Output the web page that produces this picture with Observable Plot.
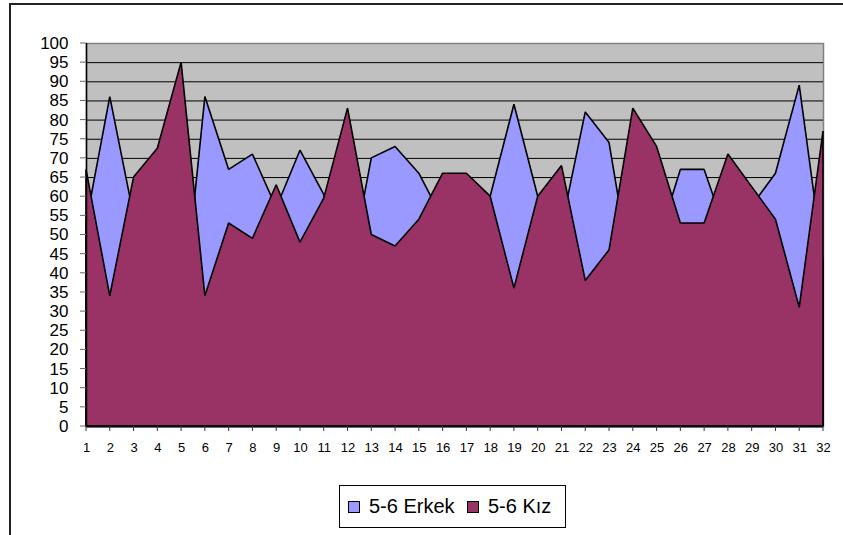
<!DOCTYPE html>
<html>
<head>
<meta charset="utf-8">
<script src="https://cdn.jsdelivr.net/npm/d3@7"></script>
<script src="https://cdn.jsdelivr.net/npm/@observablehq/plot@0.6"></script>
<style>
  html, body { margin: 0; padding: 0; background: #fff; }
  #wrap { position: relative; width: 843px; height: 535px; overflow: hidden; font-family: "Liberation Sans", Arial, sans-serif; }
  #frame { position: absolute; left: 9px; top: 3px; width: 900px; height: 600px; border: 2px solid #222; box-sizing: border-box; }
  #chart { position: absolute; left: 0; top: 0; }
  #legend { position: absolute; left: 339px; top: 485px; width: 227px; height: 43px; border: 1px solid #000; box-sizing: border-box; background: #fff; }
  .sw { position: absolute; width: 10px; height: 10px; border: 1px solid #000; top: 15px; }
  .lt { position: absolute; top: 8px; font-size: 20px; line-height: 24px; color: #000; white-space: nowrap; }
</style>
</head>
<body>
<div id="wrap">
  <div id="frame"></div>
  <div id="chart"></div>
  <div id="legend"></div>
</div>
<script>
const categories = [1,2,3,4,5,6,7,8,9,10,11,12,13,14,15,16,17,18,19,20,21,22,23,24,25,26,27,28,29,30,31,32];
const seriesNames = ["5-6 Erkek", "5-6 Kız"];
const erkek = [53,86,55,47.5,25,86,67,71,57,72,60.5,37,70,73,66,54,54,60,84,60,52,82,74,37,47,67,67,49,57.5,66,89,43];
const kiz   = [67,34,65,72.5,95,34,53,49,63,48,59.5,83,50,47,54,66,66,60,36,60,68,38,46,83,73,53,53,71,62.5,54,31,77];
const yTicks = [0,5,10,15,20,25,30,35,40,45,50,55,60,65,70,75,80,85,90,95,100];
const colors = ["#9999FF", "#993366"];

const data = categories.map((c, i) => ({cat: c, erkek: erkek[i], kiz: kiz[i]}));
const grid = yTicks.filter(v => v > 0 && v < 100);

const chart = Plot.plot({
  width: 843,
  height: 470,
  marginLeft: 86,
  marginRight: 20,
  marginTop: 43,
  marginBottom: 44,
  style: {fontFamily: "'Liberation Sans', Arial, sans-serif", color: "#000", background: "transparent", overflow: "visible"},
  x: {type: "linear", domain: [1, 32], axis: null},
  y: {domain: [0, 100], axis: null},
  marks: [
    Plot.frame({fill: "#C0C0C0", stroke: "#808080", strokeWidth: 1.5}),
    Plot.ruleY(grid, {stroke: "#000", strokeWidth: 1}),
    Plot.areaY(data, {x: "cat", y: "erkek", fill: colors[0], stroke: "#000", strokeWidth: 1.6, strokeLinejoin: "miter"}),
    Plot.areaY(data, {x: "cat", y: "kiz", fill: colors[1], stroke: "#000", strokeWidth: 1.6, strokeLinejoin: "miter"}),
    Plot.ruleY([0], {stroke: "#000", strokeWidth: 2}),
    Plot.ruleX([1], {stroke: "#000", strokeWidth: 1.5}),
    Plot.text(yTicks, {y: d => d, text: d => String(d), frameAnchor: "left", textAnchor: "end", dx: -18, fontSize: 17, fill: "#000"}),
    Plot.text(categories, {x: d => d, text: d => String(d), frameAnchor: "bottom", dy: 25, fontSize: 13, fill: "#000"})
  ]
});
document.getElementById("chart").appendChild(chart);

// short tick marks outside the plot area, positioned with the Plot scales
const xs = chart.scale("x"), ys = chart.scale("y");
const svg = d3.select(chart);
const tg = svg.append("g").attr("aria-label", "tick marks");
tg.selectAll("line.yt").data(yTicks).join("line").attr("class", "yt")
  .attr("x1", 80).attr("x2", 86)
  .attr("y1", d => ys.apply(d)).attr("y2", d => ys.apply(d))
  .attr("stroke", "#666");
tg.selectAll("line.xt").data(categories).join("line").attr("class", "xt")
  .attr("x1", d => xs.apply(d)).attr("x2", d => xs.apply(d))
  .attr("y1", 426).attr("y2", 431)
  .attr("stroke", "#333");

const legend = document.getElementById("legend");
const swX = [8, 127];
const txX = [29, 148];
seriesNames.forEach((name, i) => {
  const sw = document.createElement("div");
  sw.className = "sw";
  sw.style.left = swX[i] + "px";
  sw.style.background = colors[i];
  legend.appendChild(sw);
  const t = document.createElement("div");
  t.className = "lt";
  t.style.left = txX[i] + "px";
  t.textContent = name;
  legend.appendChild(t);
});
</script>
</body>
</html>
